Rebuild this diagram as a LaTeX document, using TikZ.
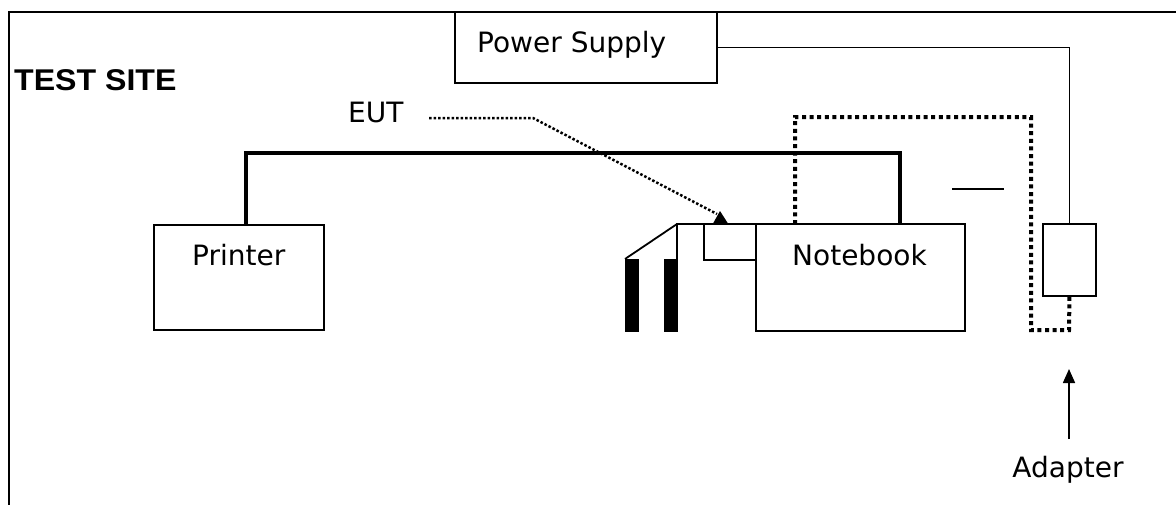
\documentclass[tikz,border=0pt]{standalone}
\usepackage{fontspec}
\setmainfont{DejaVu Sans}
\newfontfamily\sitefont{Liberation Sans}
\usetikzlibrary{arrows.meta}
\begin{document}
\begin{tikzpicture}[x=1pt,y=-1pt,
  box/.style={draw, line width=1.8pt, inner sep=0pt, outer sep=0pt, anchor=north west},
  lbl/.style={inner sep=0pt, anchor=base west, font=\fontsize{28}{32}\selectfont},
  thinline/.style={line width=1.5pt},
  bus/.style={line width=3.4pt},
  cable/.style={line width=4pt, dash pattern=on 4pt off 3.6pt},
  pointer/.style={line width=2.5pt, dash pattern=on 2.5pt off 2pt},
  dev/.style={line width=1.8pt}]
\useasboundingbox (0,0) rectangle (1176,504);
\clip (0,0) rectangle (1176,504);
% frame
\coordinate (frBL) at (9,520);
\coordinate (frTL) at (9,12);
\coordinate (frTR) at (1190,12);
\draw[line width=2pt] (frBL) -- (frTL) -- (frTR);
% boxes
\node[box, minimum width=262pt, minimum height=71pt] (ps) at (455,12) {};
\node[box, minimum width=170pt, minimum height=105pt] (printer) at (154,225) {};
\node[box, minimum width=209pt, minimum height=107pt] (notebook) at (756,224) {};
\node[box, minimum width=53pt, minimum height=72pt] (adapter) at (1043,224) {};
\node[box, minimum width=52pt, minimum height=36pt] (eut) at (704,224) {};
% labels
\node[lbl] (pstext) at (477,52) {Power Supply};
\node[lbl] (prtext) at (192,265) {Printer};
\node[lbl] (nbtext) at (792,265) {Notebook};
\node[lbl] (euttext) at (348,122) {EUT};
\node[lbl, anchor=base] (adtext) at (1068,477) {Adapter};
\node[inner sep=0pt, anchor=base west, font=\sitefont\bfseries\fontsize{30}{34}\selectfont] (site) at (14,90) {\scalebox{1.07}[1]{TEST SITE}};
% power line
\draw[thinline] (ps.east) -| (adapter.north);
% bus
\coordinate (busL) at (246,225);
\coordinate (busR) at (900,224);
\draw[bus] (busL) -- (246,153) -- (900,153) -- (busR);
% dotted cable
\coordinate (cabA) at (795,224);
\draw[cable] (cabA) -- (795,117) -- (1031,117) -- (1031,330) -- (1069,330) -- (adapter.south);
% short dash
\coordinate (dashA) at (952,189);
\coordinate (dashB) at (1004,189);
\draw[line width=1.6pt] (dashA) -- (dashB);
% EUT pointer
\coordinate (eutA) at (429,118);
\coordinate (eutB) at (717,214);
\draw[pointer] (eutA) -- (533,118) -- (eutB);
\fill (713,223.5) -- (720,211) -- (728,223.5) -- cycle;
% device
\draw[dev] (677,259) -- (677,224) -- (eut.north west);
\draw[dev] (625,259) -- (677,224);
\fill (625,259) rectangle (639,332);
\fill (664,259) rectangle (678,332);
% adapter arrow
\coordinate (adTail) at (1069,439);
\coordinate (adTip) at (1069,369);
\draw[line width=1.6pt, -{Triangle[length=14pt,width=12pt]}] (adTail) -- (adTip);
\end{tikzpicture}
\end{document}
